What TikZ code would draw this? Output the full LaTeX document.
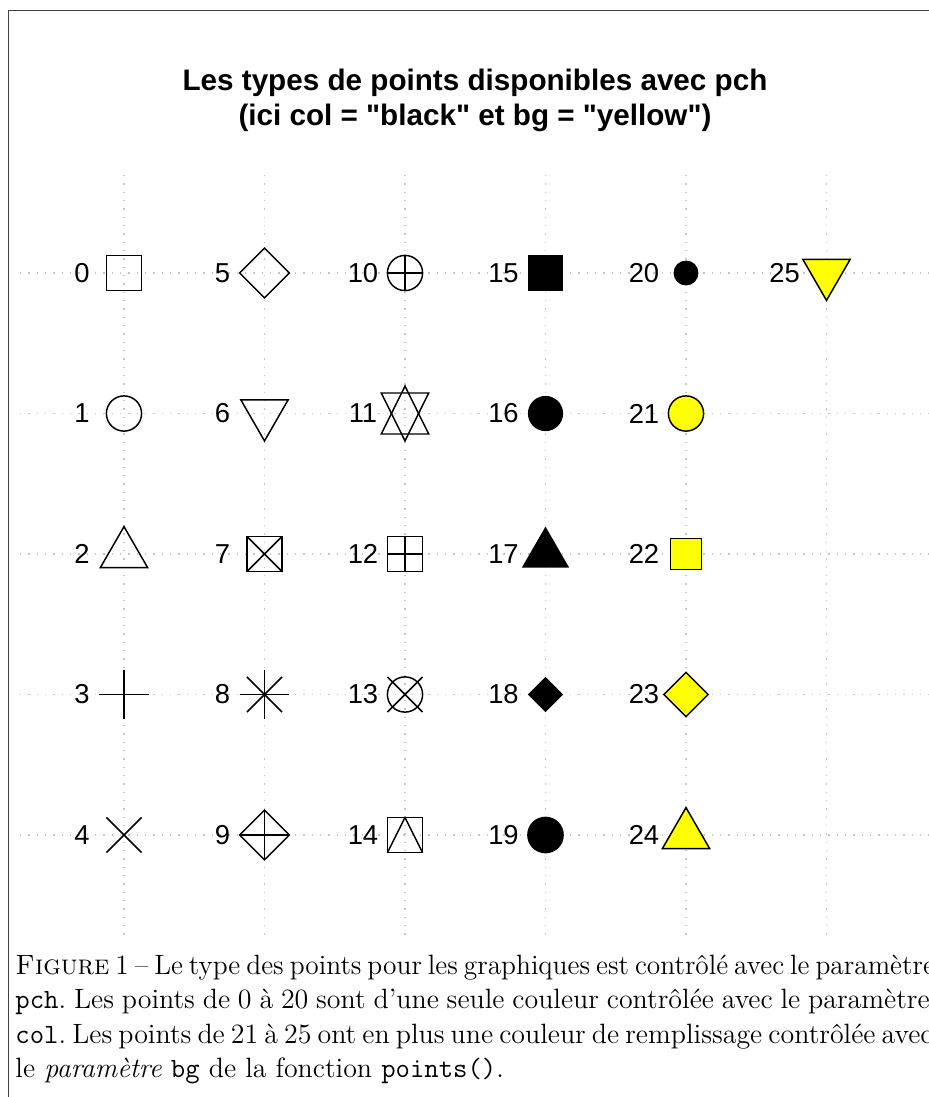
\documentclass[tikz,border=0pt]{standalone}
\usepackage{fontspec}
\usepackage{graphicx}
\newfontfamily\rsans{Liberation Sans}
\definecolor{ryellow}{HTML}{FFFF00}
\definecolor{gridgray}{HTML}{C4C4C4}
\definecolor{framegray}{HTML}{404040}
\def\sR{17.6}
\def\sP{24.9}
\def\sT{23.7}
\def\sTa{27.4}
\def\sTb{13.7}
\def\sS{20.5}
\def\sQ{15.6}
\def\sD{22.1}
\def\sC{11.7}
\begin{document}
\frenchspacing
\begin{tikzpicture}[x=0.42pt,y=-0.42pt,
  gridline/.style={draw=gridgray,line width=0.55pt,dash pattern=on 0.6pt off 2.9pt},
  sym/.style={draw=black,line width=0.62pt},
  fsym/.style={fill=black,draw=black,line width=0.62pt},
  ysym/.style={fill=ryellow,draw=black,line width=0.62pt},
  lab/.style={font=\rsans\fontsize{11.5}{13}\selectfont,inner sep=0pt,anchor=center},
  ttl/.style={font=\rsans\bfseries\fontsize{12.45}{14.7}\selectfont,inner sep=0pt,anchor=base},
  capline/.style={font=\fontsize{11.73}{14}\selectfont,inner sep=0pt,anchor=base west},
  frameline/.style={draw=framegray,line width=0.5pt}]
\useasboundingbox (0,0) rectangle (929,1097);
% frame
\draw[frameline] (8.5,1110) -- (8.5,10.5) -- (940,10.5);
% title
\node[ttl] (t1) at (475,90) {Les types de points disponibles avec pch};
\node[ttl] (t2) at (475,125) {(ici col = "black" et bg = "yellow")};
% grid
\foreach \c in {0,...,5} \draw[gridline] ({124+140.5*\c},175) -- ({124+140.5*\c},935);
\foreach \r in {0,...,4} \draw[gridline] (20,{273+140.5*\r}) -- (945,{273+140.5*\r});
% points and labels
\foreach \c in {0,...,5} {
  \foreach \r in {0,...,4} {
    \pgfmathtruncatemacro\i{5*\c+\r}
    \ifnum\i<26
      \coordinate (p\i) at ({124+140.5*\c},{273+140.5*\r});
      \node[lab] (l\i) at ([xshift=-17.64pt]p\i) {\i};
    \fi
  }
}
% 0
\begin{scope}[shift={(p0)}]
\draw[sym] (-\sR,-\sR) rectangle (\sR,\sR);
\end{scope}
% 1
\begin{scope}[shift={(p1)}]
\draw[sym] (0,0) circle[radius=\sR];
\end{scope}
% 2
\begin{scope}[shift={(p2)}]
\draw[sym] (0,-\sTa) -- (\sT,\sTb) -- (-\sT,\sTb) -- cycle;
\end{scope}
% 3
\begin{scope}[shift={(p3)}]
\draw[sym] (-\sP,0) -- (\sP,0) (0,-\sP) -- (0,\sP);
\end{scope}
% 4
\begin{scope}[shift={(p4)}]
\draw[sym] (-\sR,-\sR) -- (\sR,\sR) (-\sR,\sR) -- (\sR,-\sR);
\end{scope}
% 5
\begin{scope}[shift={(p5)}]
\draw[sym] (-\sP,0) -- (0,-\sP) -- (\sP,0) -- (0,\sP) -- cycle;
\end{scope}
% 6
\begin{scope}[shift={(p6)}]
\draw[sym] (0,\sTa) -- (\sT,-\sTb) -- (-\sT,-\sTb) -- cycle;
\end{scope}
% 7
\begin{scope}[shift={(p7)}]
\draw[sym] (-\sR,-\sR) rectangle (\sR,\sR);
\draw[sym] (-\sR,-\sR) -- (\sR,\sR) (-\sR,\sR) -- (\sR,-\sR);
\end{scope}
% 8
\begin{scope}[shift={(p8)}]
\draw[sym] (-\sP,0) -- (\sP,0) (0,-\sP) -- (0,\sP);
\draw[sym] (-\sR,-\sR) -- (\sR,\sR) (-\sR,\sR) -- (\sR,-\sR);
\end{scope}
% 9
\begin{scope}[shift={(p9)}]
\draw[sym] (-\sP,0) -- (0,-\sP) -- (\sP,0) -- (0,\sP) -- cycle;
\draw[sym] (-\sP,0) -- (\sP,0) (0,-\sP) -- (0,\sP);
\end{scope}
% 10
\begin{scope}[shift={(p10)}]
\draw[sym] (0,0) circle[radius=\sR];
\draw[sym] (-\sR,0) -- (\sR,0) (0,-\sR) -- (0,\sR);
\end{scope}
% 11
\begin{scope}[shift={(p11)}]
\draw[sym] (0,-\sTa) -- (\sT,\sS) -- (-\sT,\sS) -- cycle;
\draw[sym] (0,\sTa) -- (\sT,-\sS) -- (-\sT,-\sS) -- cycle;
\end{scope}
% 12
\begin{scope}[shift={(p12)}]
\draw[sym] (-\sR,-\sR) rectangle (\sR,\sR);
\draw[sym] (-\sR,0) -- (\sR,0) (0,-\sR) -- (0,\sR);
\end{scope}
% 13
\begin{scope}[shift={(p13)}]
\draw[sym] (0,0) circle[radius=\sR];
\draw[sym] (-\sR,-\sR) -- (\sR,\sR) (-\sR,\sR) -- (\sR,-\sR);
\end{scope}
% 14
\begin{scope}[shift={(p14)}]
\draw[sym] (-\sR,-\sR) rectangle (\sR,\sR);
\draw[sym] (-\sR,\sR) -- (0,-\sR) -- (\sR,\sR);
\end{scope}
% 15
\begin{scope}[shift={(p15)}]
\fill[black] (-\sR,-\sR) rectangle (\sR,\sR);
\end{scope}
% 16
\begin{scope}[shift={(p16)}]
\fill[black] (0,0) circle[radius=\sR];
\end{scope}
% 17
\begin{scope}[shift={(p17)}]
\fill[black] (0,-\sTa) -- (\sT,\sTb) -- (-\sT,\sTb) -- cycle;
\end{scope}
% 18
\begin{scope}[shift={(p18)}]
\fill[black] (-\sR,0) -- (0,-\sR) -- (\sR,0) -- (0,\sR) -- cycle;
\end{scope}
% 19
\begin{scope}[shift={(p19)}]
\path[fsym] (0,0) circle[radius=\sR];
\end{scope}
% 20
\begin{scope}[shift={(p20)}]
\path[fsym] (0,0) circle[radius=\sC];
\end{scope}
% 21
\begin{scope}[shift={(p21)}]
\path[ysym] (0,0) circle[radius=\sR];
\end{scope}
% 22
\begin{scope}[shift={(p22)}]
\path[ysym] (-\sQ,-\sQ) rectangle (\sQ,\sQ);
\end{scope}
% 23
\begin{scope}[shift={(p23)}]
\path[ysym] (-\sD,0) -- (0,-\sD) -- (\sD,0) -- (0,\sD) -- cycle;
\end{scope}
% 24
\begin{scope}[shift={(p24)}]
\path[ysym] (0,-\sTa) -- (\sT,\sTb) -- (-\sT,\sTb) -- cycle;
\end{scope}
% 25
\begin{scope}[shift={(p25)}]
\path[ysym] (0,\sTa) -- (\sT,-\sTb) -- (-\sT,-\sTb) -- cycle;
\end{scope}
% caption
\node[capline] (c1) at (15,974) {\scalebox{0.982}[1]{\hbox to 391pt{\textsc{Figure}~1 – Le type des points pour les graphiques est contrôlé avec le paramètre}}};
\node[capline] (c2) at (15,1008.5) {\hbox to 384pt{\texttt{pch}. Les points de 0 à 20 sont d'une seule couleur contrôlée avec le paramètre}};
\node[capline] (c3) at (15,1043) {\hbox to 384pt{\texttt{col}. Les points de 21 à 25 ont en plus une couleur de remplissage contrôlée avec}};
\node[capline] (c4) at (15,1077.5) {le \textit{paramètre} \texttt{bg} de la fonction \texttt{points()}.};
\end{tikzpicture}
\end{document}
